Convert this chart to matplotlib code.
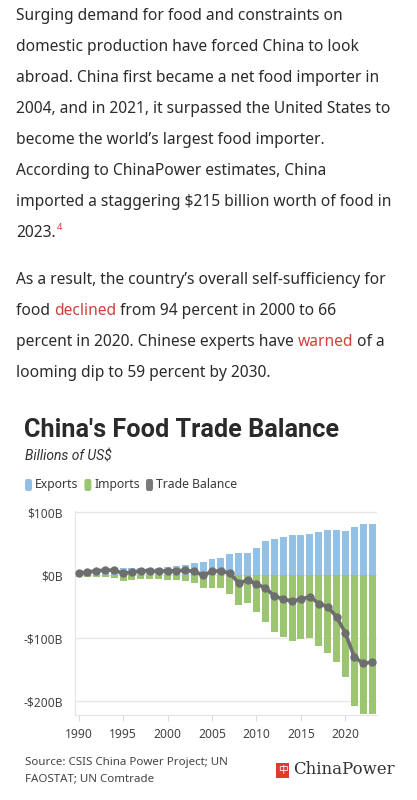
import matplotlib
matplotlib.use("Agg")
import matplotlib.pyplot as plt
from matplotlib.patches import Rectangle, FancyBboxPatch

# ---- data (billions of US$) ----
years = list(range(1990, 2024))
exports = [6, 7, 9, 10, 11, 11, 11, 12, 12, 11,
           13, 14, 16, 19, 21, 25, 28, 34, 36, 36,
           44, 54, 57, 60, 64, 64, 66, 69, 72, 72,
           70, 76, 82, 82]
imports = [-3, -3, -3, -3, -4, -9, -7, -6, -6, -6,
           -7, -8, -9, -13, -21, -20, -21, -30, -48, -44,
           -58, -74, -90, -98, -105, -102, -100, -113, -123, -138,
           -161, -207, -221, -220]
balance = [3, 5, 7, 8, 8, 3, 5, 7, 7, 6,
           7, 7, 8, 6, 0, 6, 7, 3, -12, -8,
           -14, -20, -33, -38, -41, -38, -34, -45, -50, -66,
           -92, -130, -140, -138]
yticks = [100, 0, -100, -200]
ytick_labels = ["$100B", "$0B", "-$100B", "-$200B"]
xticks = [1990, 1995, 2000, 2005, 2010, 2015, 2020]

para1 = [
    [("Surging demand for food and constraints on", None)],
    [("domestic production have forced China to look", None)],
    [("abroad. China first became a net food importer in", None)],
    [("2004, and in 2021, it surpassed the United States to", None)],
    [("become the world\u2019s largest food importer.", None)],
    [("According to ChinaPower estimates, China", None)],
    [("imported a staggering $215 billion worth of food in", None)],
    [("2023.", None), ("sup4", "red")],
]
para2 = [
    [("As a result, the country\u2019s overall self-sufficiency for", None)],
    [("food ", None), ("declined", "red"), (" from 94 percent in 2000 to 66", None)],
    [("percent in 2020. Chinese experts have ", None), ("warned", "red"), (" of a", None)],
    [("looming dip to 59 percent by 2030.", None)],
]

W, H = 417, 800
TEXT = "#2b2b2b"
RED = "#d23f3a"
BLUE = "#92c1e5"
GREEN = "#9cc572"
GRAY = "#6e6e6e"

fig = plt.figure(figsize=(W / 100, H / 100), dpi=100)
fig.patch.set_facecolor("white")
renderer = fig.canvas.get_renderer()


def fx(x):
    return x / W


def fy(y):
    return 1 - y / H


def draw_line(x, y, runs, size=11.2):
    for txt, col in runs:
        if txt.startswith("sup"):
            t = fig.text(fx(x + 1), fy(y - 6), txt[3:], fontsize=size * 0.6,
                         color=RED, family="Noto Sans", va="center")
        else:
            t = fig.text(fx(x), fy(y), txt, fontsize=size,
                         color=RED if col else TEXT, family="Noto Sans", va="center")
        x += t.get_window_extent(renderer).width


for i, runs in enumerate(para1):
    draw_line(16, 16 + i * 31, runs)
for i, runs in enumerate(para2):
    draw_line(16, 280 + i * 31, runs)

# title block
fig.text(fx(24), fy(430), "China's Food Trade Balance", fontsize=18.2, fontweight="bold",
         color="#2a2a2a", family="Roboto", va="center")
fig.text(fx(25), fy(457), "Billions of US$", fontsize=10, style="italic",
         color="#333333", family="Roboto", va="center")

# legend
lx = 25
for lab, col in [("Exports", BLUE), ("Imports", GREEN), ("Trade Balance", "#7a7a7a")]:
    fig.patches.append(FancyBboxPatch((fx(lx), fy(491)), fx(7), 12 / H,
                                      boxstyle="round,pad=0,rounding_size=0.004",
                                      transform=fig.transFigure,
                                      facecolor=col, edgecolor="none"))
    t = fig.text(fx(lx + 10), fy(485), lab, fontsize=8.8, color="#3a3a3a",
                 family="Noto Sans", va="center")
    lx += 10 + t.get_window_extent(renderer).width + 6

# chart
ax = fig.add_axes([fx(75), fy(715), fx(377 - 75), (715 - 511) / H])
ax.bar(years, exports, width=0.78, color=BLUE, zorder=2)
ax.bar(years, imports, width=0.78, color=GREEN, zorder=2)
ax.plot(years, balance, color=GRAY, lw=2.6, marker="o", ms=5, zorder=3)

ax.set_xlim(1989.6, 2023.55)
ax.set_ylim(-222, 102)
ax.set_yticks(yticks)
ax.set_yticklabels(ytick_labels)
ax.set_xticks(xticks)
ax.grid(axis="y", color="#e6e6e6", lw=0.9, zorder=0)
for s in ["top", "right"]:
    ax.spines[s].set_visible(False)
for s in ["left", "bottom"]:
    ax.spines[s].set_color("#e4e4e4")
ax.tick_params(axis="y", length=0, pad=9, labelsize=8.7, labelcolor="#444444")
ax.tick_params(axis="x", length=4, color="#dddddd", pad=5, labelsize=8.7, labelcolor="#444444")
for lab in ax.get_xticklabels() + ax.get_yticklabels():
    lab.set_family("Noto Sans")

# footer
fig.text(fx(25), fy(762), "Source: CSIS China Power Project; UN", fontsize=8.3,
         color="#444444", family="Noto Sans", va="center")
fig.text(fx(25), fy(779), "FAOSTAT; UN Comtrade", fontsize=8.3,
         color="#444444", family="Noto Sans", va="center")
fig.patches.append(Rectangle((fx(276), fy(778)), fx(13), 15 / H, transform=fig.transFigure,
                             facecolor="#e2392f", edgecolor="none"))
fig.text(fx(282.5), fy(770.5), "\u4e2d", fontsize=7, color="white",
         family=["Noto Sans CJK SC", "DejaVu Sans"], ha="center", va="center")
fig.text(fx(293), fy(770), "ChinaPower", fontsize=11.9, color="#333333",
         family="DejaVu Serif", va="center")

fig.savefig("out.png", dpi=100)
